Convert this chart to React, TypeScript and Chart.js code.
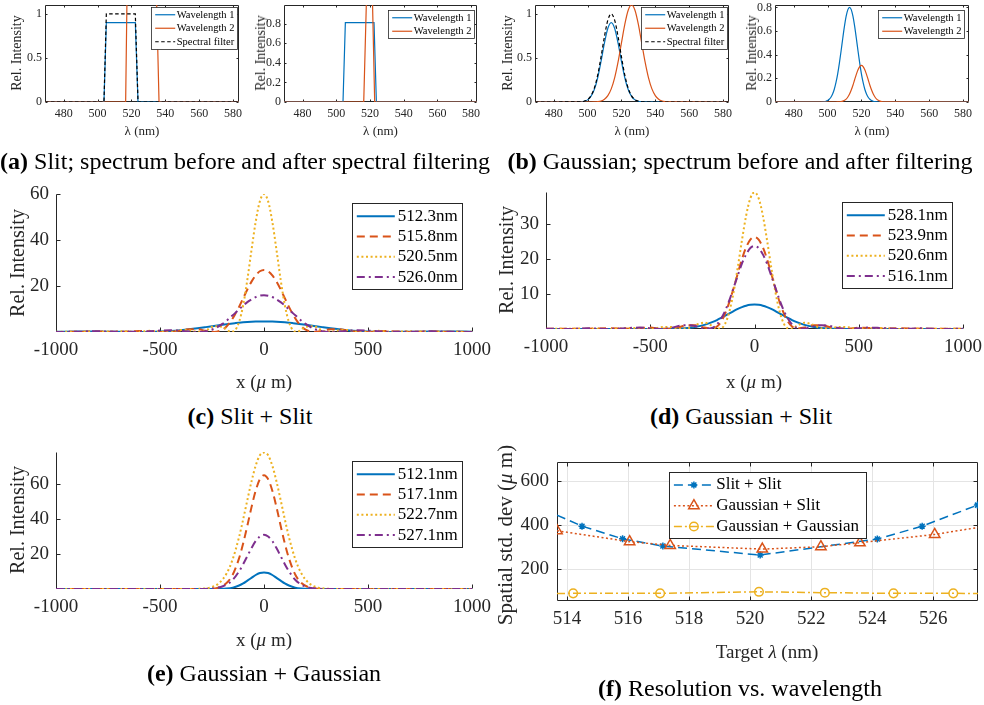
import React, { useEffect, useRef } from 'react';
import { Chart, registerables } from 'chart.js';
import { drawPoint } from 'chart.js/helpers';

Chart.register(...registerables);

const FONT = '"Liberation Serif", "Times New Roman", serif';
const AXIS = '#262626';
const GRID_COLOR = '#e4e4e4';
const BLUE = '#0072BD';
const ORANGE = '#D95319';
const YELLOW = '#EDB120';
const PURPLE = '#7E2F8E';

// ---------- tick values ----------
const SPEC_X_TICKS = [480, 500, 520, 540, 560, 580];
const SPEC_Y_TICKS_1 = [0, 0.5, 1];
const SPEC_Y_TICKS_08 = [0, 0.2, 0.4, 0.6, 0.8];
const POS_X_TICKS = [-1000, -500, 0, 500, 1000];
const C_Y_TICKS = [20, 40, 60];
const D_Y_TICKS = [10, 20, 30];
const E_Y_TICKS = [20, 40, 60];
const F_X_TICKS = [514, 516, 518, 520, 522, 524, 526];
const F_Y_TICKS = [200, 400, 600];

// ---------- (a) slit spectra ----------
const A1_W1_X = [469, 503.8, 505.2, 522.3, 523.9, 583.5];
const A1_W1_Y = [0, 0, 0.9, 0.9, 0, 0];
const A1_W2_X = [469, 516.6, 517.4, 534.8, 536.3, 583.5];
const A1_W2_Y = [0, 0, 1.2, 1.2, 0, 0];
const A1_F_X = [469, 503.8, 505.2, 522.3, 523.9, 583.5];
const A1_F_Y = [0, 0, 1, 1, 0, 0];

const A2_W1_X = [469, 504.0, 505.4, 522.4, 523.8, 583.5];
const A2_W1_Y = [0, 0, 0.81, 0.81, 0, 0];
const A2_W2_X = [469, 516.3, 518.0, 521.4, 522.8, 583.5];
const A2_W2_Y = [0, 0, 1.1, 1.1, 0, 0];

// ---------- (b) gaussian spectra ----------
const B1_X = [469, 494, 496, 498, 500, 502, 504, 506, 508, 510, 512, 514, 516, 518, 520, 522, 524, 526, 528, 530, 532, 534, 536, 538, 540, 542, 544, 546, 548, 583.5];
const B1_W1 = [0, 0, 0.002, 0.008, 0.024, 0.063, 0.141, 0.275, 0.463, 0.67, 0.836, 0.9, 0.836, 0.67, 0.463, 0.275, 0.141, 0.063, 0.024, 0.008, 0.002, 0, 0, 0, 0, 0, 0, 0, 0, 0];
const B1_W2 = [0, 0, 0, 0, 0, 0, 0.001, 0.004, 0.012, 0.032, 0.073, 0.149, 0.274, 0.452, 0.668, 0.881, 1.041, 1.1, 1.041, 0.881, 0.668, 0.452, 0.274, 0.149, 0.073, 0.032, 0.012, 0.004, 0.001, 0];
const B1_F = [0, 0.001, 0.003, 0.009, 0.027, 0.07, 0.157, 0.306, 0.514, 0.744, 0.929, 1, 0.929, 0.744, 0.514, 0.306, 0.157, 0.07, 0.027, 0.009, 0.003, 0.001, 0, 0, 0, 0, 0, 0, 0, 0];

const B2_X = [469, 496, 497, 498, 499, 500, 501, 502, 503, 504, 505, 506, 507, 508, 509, 510, 511, 512, 513, 514, 515, 516, 517, 518, 519, 520, 521, 522, 523, 524, 525, 526, 527, 528, 529, 530, 531, 532, 533, 534, 583.5];
const B2_W1 = [0, 0, 0.001, 0.003, 0.006, 0.012, 0.023, 0.04, 0.068, 0.108, 0.165, 0.238, 0.329, 0.431, 0.539, 0.641, 0.725, 0.781, 0.8, 0.781, 0.725, 0.641, 0.539, 0.431, 0.329, 0.238, 0.165, 0.108, 0.068, 0.04, 0.023, 0.012, 0.006, 0.003, 0.001, 0, 0, 0, 0, 0, 0];
const B2_W2 = [0, 0, 0, 0, 0, 0, 0, 0, 0, 0, 0, 0.001, 0.002, 0.003, 0.007, 0.014, 0.024, 0.042, 0.067, 0.101, 0.142, 0.188, 0.234, 0.273, 0.3, 0.31, 0.3, 0.273, 0.234, 0.188, 0.142, 0.101, 0.067, 0.042, 0.024, 0.014, 0.007, 0.003, 0.002, 0.001, 0];

// ---------- (c),(d) spatial profiles ----------
const CD_X = [-1000, -900, -800, -700, -600, -550, -500, -450, -400, -360, -320, -280, -240, -200, -180, -160, -140, -120, -100, -80, -60, -40, -20, 0, 20, 40, 60, 80, 100, 120, 140, 160, 180, 200, 240, 280, 320, 360, 400, 450, 500, 550, 600, 700, 800, 900, 1000];

const C_512_3 = [0.13, 0.21, 0.2, 0.09, 0, 0.04, 0.17, 0.41, 0.79, 1.17, 1.62, 2.12, 2.64, 3.15, 3.39, 3.62, 3.83, 4.03, 4.2, 4.34, 4.45, 4.53, 4.58, 4.6, 4.58, 4.53, 4.45, 4.34, 4.2, 4.03, 3.83, 3.62, 3.39, 3.15, 2.64, 2.12, 1.62, 1.17, 0.79, 0.41, 0.17, 0.04, 0, 0.09, 0.2, 0.21, 0.13];
const C_515_8 = [0, 0.1, 0.2, 0, 0.4, 0.3, 0, 0.1, 0.7, 1.2, 1.2, 0.5, 0, 1.0, 2.4, 4.6, 7.5, 10.9, 14.7, 18.5, 21.9, 24.6, 26.4, 27, 26.4, 24.6, 21.9, 18.5, 14.7, 10.9, 7.5, 4.6, 2.4, 1.0, 0, 0.5, 1.2, 1.2, 0.7, 0.1, 0, 0.3, 0.4, 0, 0.2, 0.1, 0];
const C_520_5 = [0.1, 0.1, 0.1, 0.3, 0.1, 0.5, 0.2, 0.1, 0.9, 0.8, 0.1, 0.6, 2.5, 2.3, 1.1, 0.1, 0.7, 4.3, 11.7, 22.8, 35.7, 47.9, 56.8, 60, 56.8, 47.9, 35.7, 22.8, 11.7, 4.3, 0.7, 0.1, 1.1, 2.3, 2.5, 0.6, 0.1, 0.8, 0.9, 0.1, 0.2, 0.5, 0.1, 0.3, 0.1, 0.1, 0.1];
const C_526_0 = [0, 0.1, 0.3, 0.1, 0.1, 0.3, 0.6, 0.8, 0.5, 0.2, 0, 0.3, 1.4, 3.5, 4.9, 6.5, 8.1, 9.8, 11.5, 13.0, 14.2, 15.2, 15.8, 16, 15.8, 15.2, 14.2, 13.0, 11.5, 9.8, 8.1, 6.5, 4.9, 3.5, 1.4, 0.3, 0, 0.2, 0.5, 0.8, 0.6, 0.3, 0.1, 0.1, 0.3, 0.1, 0];

const D_528_1 = [0, 0, 0, 0, 0, 0, 0, 0.01, 0.05, 0.13, 0.29, 0.62, 1.17, 2.03, 2.56, 3.17, 3.81, 4.48, 5.13, 5.74, 6.26, 6.66, 6.91, 7, 6.91, 6.66, 6.26, 5.74, 5.13, 4.48, 3.81, 3.17, 2.56, 2.03, 1.17, 0.62, 0.29, 0.13, 0.05, 0.01, 0, 0, 0, 0, 0, 0, 0];
const D_523_9 = [0.1, 0.1, 0.1, 0.2, 0.1, 0.3, 0.4, 0.1, 0.1, 0.6, 1.1, 1.1, 0.4, 0.1, 0.7, 2.1, 4.5, 7.8, 11.7, 15.9, 20.0, 23.3, 25.5, 26.3, 25.5, 23.3, 20.0, 15.9, 11.7, 7.8, 4.5, 2.1, 0.7, 0.1, 0.4, 1.1, 1.1, 0.6, 0.1, 0.1, 0.4, 0.3, 0.1, 0.2, 0.1, 0.1, 0.1];
const D_520_6 = [0, 0.1, 0.1, 0, 0.3, 0.2, 0, 0.5, 0.6, 0.1, 0.2, 1.2, 1.8, 0.8, 0.1, 0.2, 1.6, 5.1, 10.6, 17.7, 25.4, 32.4, 37.3, 39, 37.3, 32.4, 25.4, 17.7, 10.6, 5.1, 1.6, 0.2, 0.1, 0.8, 1.8, 1.2, 0.2, 0.1, 0.6, 0.5, 0, 0.2, 0.3, 0, 0.1, 0.1, 0];
const D_516_1 = [0.1, 0, 0.2, 0, 0.3, 0.4, 0.2, 0, 0.3, 0.9, 1.1, 0.8, 0.1, 0.4, 1.3, 3.0, 5.3, 8.3, 11.8, 15.3, 18.7, 21.3, 23.1, 23.7, 23.1, 21.3, 18.7, 15.3, 11.8, 8.3, 5.3, 3.0, 1.3, 0.4, 0.1, 0.8, 1.1, 0.9, 0.3, 0, 0.2, 0.4, 0.3, 0, 0.2, 0, 0.1];

// ---------- (e) spatial profiles ----------
const E_X = [-1000, -800, -600, -500, -400, -350, -300, -260, -220, -180, -150, -120, -100, -80, -60, -40, -20, 0, 20, 40, 60, 80, 100, 120, 150, 180, 220, 260, 300, 350, 400, 500, 600, 800, 1000];
const E_512_1 = [0, 0, 0, 0, 0, 0, 0, 0, 0.1, 0.3, 0.8, 2.0, 3.2, 4.8, 6.4, 8.0, 9.1, 9.5, 9.1, 8.0, 6.4, 4.8, 3.2, 2.0, 0.8, 0.3, 0.1, 0, 0, 0, 0, 0, 0, 0, 0];
const E_517_1 = [0, 0, 0, 0, 0, 0, 0, 0.1, 0.8, 3.4, 8.3, 17.5, 26.1, 36.2, 46.8, 56.2, 62.7, 65, 62.7, 56.2, 46.8, 36.2, 26.1, 17.5, 8.3, 3.4, 0.8, 0.1, 0, 0, 0, 0, 0, 0, 0];
const E_522_7 = [0, 0, 0, 0, 0, 0, 0.2, 0.8, 3.0, 8.8, 17.2, 29.6, 39.9, 50.9, 61.5, 70.5, 76.4, 78, 76.4, 70.5, 61.5, 50.9, 39.9, 29.6, 17.2, 8.8, 3.0, 0.8, 0.2, 0, 0, 0, 0, 0, 0];
const E_527_1 = [0, 0, 0, 0, 0, 0, 0, 0.2, 0.7, 2.5, 5.3, 10.1, 14.2, 18.8, 23.4, 27.4, 30.0, 31, 30.0, 27.4, 23.4, 18.8, 14.2, 10.1, 5.3, 2.5, 0.7, 0.2, 0, 0, 0, 0, 0, 0, 0];

// ---------- (f) resolution vs wavelength ----------
const F_SS_X = [513.67, 514.49, 515.82, 517.14, 520.33, 524.17, 525.64, 527.45];
const F_SS_Y = [446, 396, 338, 305, 264, 337, 396, 492];
const F_GS_X = [513.67, 516.05, 517.38, 520.4, 522.32, 523.6, 526.05, 527.47];
const F_GS_Y = [375, 325, 308, 291, 302, 320, 358, 390];
const F_GG_X = [513.67, 514.2, 517.05, 520.29, 522.45, 524.7, 526.66, 527.47];
const F_GG_Y = [88.5, 89, 89, 96, 92, 89, 89, 88.5];

// ---------- plugins ----------
const boxLegendPlugin = {
  id: 'boxLegend',
  afterDatasetsDraw(chart: any, _args: any, o: any) {
    if (!o || !o.size) return;
    const ctx = chart.ctx;
    const ca = chart.chartArea;
    const items = chart.data.datasets;
    ctx.save();
    ctx.font = `${o.size}px ${FONT}`;
    let tw = 0;
    items.forEach((d: any) => {
      tw = Math.max(tw, ctx.measureText(d.label).width);
    });
    const w = Math.round(o.padL + o.lineLen + o.gap + tw + o.padR);
    const h = Math.round(o.padY * 2 + o.rowH * items.length);
    const x0 = Math.round(o.align === 'center' ? (ca.left + ca.right - w) / 2 : ca.right - o.dx - w) + 0.5;
    const y0 = Math.round(ca.top + o.dy) + 0.5;
    ctx.fillStyle = '#ffffff';
    ctx.fillRect(x0, y0, w, h);
    ctx.strokeStyle = AXIS;
    ctx.lineWidth = o.border || 1;
    ctx.setLineDash([]);
    ctx.strokeRect(x0, y0, w, h);
    items.forEach((d: any, i: number) => {
      const cy = y0 + o.padY + o.rowH * (i + 0.5);
      const lx = x0 + o.padL;
      ctx.save();
      ctx.strokeStyle = d.borderColor;
      ctx.lineWidth = d.borderWidth;
      ctx.setLineDash(d.borderDash || []);
      ctx.beginPath();
      ctx.moveTo(lx, cy);
      ctx.lineTo(lx + o.lineLen, cy);
      ctx.stroke();
      ctx.setLineDash([]);
      if (d.legendMarker) {
        ctx.fillStyle = 'rgba(0,0,0,0)';
        ctx.strokeStyle = d.borderColor;
        ctx.lineWidth = d.pointBorderWidth || 1;
        drawPoint(ctx, { pointStyle: d.pointStyle, radius: d.legendMarker, borderWidth: d.pointBorderWidth || 1, rotation: 0 } as any, lx + o.lineLen / 2, cy);
      }
      ctx.restore();
      ctx.fillStyle = '#000000';
      ctx.textBaseline = 'middle';
      ctx.textAlign = 'left';
      ctx.fillText(d.label, lx + o.lineLen + o.gap, cy + (o.textDy || 0));
    });
    ctx.restore();
  },
};

const axesDecoPlugin = {
  id: 'axesDeco',
  beforeDatasetsDraw(chart: any, _a: any, o: any) {
    const ctx = chart.ctx;
    const ca = chart.chartArea;
    const xs = chart.scales.x;
    const ys = chart.scales.y;
    const L = Math.round(ca.left) + 0.5;
    const R = Math.round(ca.right) - 0.5;
    const T = Math.round(ca.top) + 0.5;
    const B = Math.round(ca.bottom) - 0.5;
    const len = o.len || 0;
    ctx.save();
    ctx.strokeStyle = AXIS;
    ctx.lineWidth = 1;
    ctx.setLineDash([]);
    ctx.beginPath();
    if (o.box) {
      ctx.rect(L, T, R - L, B - T);
    } else {
      ctx.moveTo(L, T);
      ctx.lineTo(L, B);
      ctx.lineTo(R, B);
    }
    xs.ticks.forEach((t: any) => {
      const px = Math.round(xs.getPixelForValue(t.value)) + 0.5;
      ctx.moveTo(px, B);
      ctx.lineTo(px, B - len);
      if (o.box) {
        ctx.moveTo(px, T);
        ctx.lineTo(px, T + len);
      }
    });
    ys.ticks.forEach((t: any) => {
      const py = Math.round(ys.getPixelForValue(t.value)) + 0.5;
      ctx.moveTo(L, py);
      ctx.lineTo(L + len, py);
      if (o.box) {
        ctx.moveTo(R, py);
        ctx.lineTo(R - len, py);
      }
    });
    ctx.stroke();
    ctx.restore();
  },
};

// ---------- helpers ----------
function series(label: string, xs: number[], ys: number[], color: string, width: number, dash: number[], extra: any = {}) {
  return {
    label,
    data: xs.map((x, i) => ({ x, y: ys[i] })),
    borderColor: color,
    backgroundColor: color,
    borderWidth: width,
    borderDash: dash,
    pointRadius: 0,
    fill: false,
    tension: 0,
    ...extra,
  };
}

function makeConfig(p: any) {
  const [pl, pt, pr, pb] = p.pads;
  const tickFont = { family: FONT, size: p.tickSize };
  const n = p.datasets.length;
  p.datasets.forEach((d: any, i: number) => {
    d.order = n - i;
  });
  return {
    type: 'line',
    data: { datasets: p.datasets },
    options: {
      responsive: false,
      animation: false,
      devicePixelRatio: 1,
      events: [],
      layout: { padding: { left: 0, top: pt, right: pr, bottom: 0 } },
      plugins: {
        legend: { display: false },
        tooltip: { enabled: false },
        boxLegend: p.legend,
        axesDeco: { box: p.box, len: p.tickLen },
      },
      scales: {
        x: {
          type: 'linear',
          min: p.xRange[0],
          max: p.xRange[1],
          afterFit: (s: any) => {
            s.height = pb;
          },
          afterBuildTicks: (s: any) => {
            s.ticks = p.xTicks.map((v: number) => ({ value: v }));
          },
          grid: { display: !!p.grid, drawTicks: false, color: GRID_COLOR, lineWidth: 1 },
          border: { display: false },
          ticks: { font: tickFont, color: AXIS, padding: p.xPad, maxRotation: 0, minRotation: 0, autoSkip: false, callback: (v: any) => String(v) },
        },
        y: {
          type: 'linear',
          min: p.yRange[0],
          max: p.yRange[1],
          afterFit: (s: any) => {
            s.width = pl;
          },
          afterBuildTicks: (s: any) => {
            s.ticks = p.yTicks.map((v: number) => ({ value: v }));
          },
          grid: { display: !!p.grid, drawTicks: false, color: GRID_COLOR, lineWidth: 1 },
          border: { display: false },
          ticks: { font: tickFont, color: AXIS, padding: p.yPad, autoSkip: false, callback: (v: any) => String(v) },
        },
      },
    },
    plugins: [boxLegendPlugin, axesDecoPlugin],
  };
}

function ChartBox({ rect, pads, build }: any) {
  const ref = useRef<HTMLCanvasElement | null>(null);
  useEffect(() => {
    const chart = new Chart(ref.current as HTMLCanvasElement, build() as any);
    return () => chart.destroy();
  }, []);
  const [L, T, R, B] = rect;
  const [pl, pt, pr, pb] = pads;
  const w = R - L + pl + pr;
  const h = B - T + pt + pb;
  return <canvas ref={ref} width={w} height={h} style={{ position: 'absolute', left: L - pl, top: T - pt, width: w, height: h }} />;
}

function Label({ x, y, size, rotate = false, color = AXIS, children }: any) {
  return (
    <div
      style={{
        position: 'absolute',
        left: x,
        top: y,
        transform: `translate(-50%, -50%)${rotate ? ' rotate(-90deg)' : ''}`,
        fontSize: size,
        lineHeight: 1,
        whiteSpace: 'nowrap',
        color,
        fontFamily: FONT,
      }}
    >
      {children}
    </div>
  );
}

// ---------- panel definitions ----------
const SPEC_PADS = [42, 14, 14, 22];
const BIG_PADS = [45, 22, 30, 40];
const F_PADS = [45, 22, 14, 40];

const specLegend = (dx: number, dy: number) => ({ size: 10.5, align: 'right', dx, dy, rowH: 13.5, padY: 0.5, lineLen: 20, padL: 3.7, gap: 1.5, padR: 3, border: 0.8 });
const bigLegend = (dx: number, dy: number) => ({ size: 17, align: 'right', dx, dy, rowH: 20.3, padY: 2.5, lineLen: 38, padL: 4.3, gap: 3, padR: 5, border: 1 });

const specBase = { tickSize: 12, xTicks: SPEC_X_TICKS, xRange: [469, 583.5], xPad: 5, yPad: 3, box: true, tickLen: 2, pads: SPEC_PADS };
const bigBase = { tickSize: 19, xTicks: POS_X_TICKS, xRange: [-1000, 1000], xPad: 7, yPad: 7, box: false, tickLen: 4, pads: BIG_PADS };

const DASH = [8, 5];
const DOT = [2, 2.6];
const DASHDOT = [8, 4, 2, 4];
const mono = { cubicInterpolationMode: 'monotone' };

const RECT_A1 = [45, 5, 239, 102];
const RECT_A2 = [284, 5, 477, 102];
const RECT_B1 = [535, 5, 729, 102];
const RECT_B2 = [775, 5, 969, 102];
const RECT_C = [56, 194, 472, 332];
const RECT_D = [546, 192, 963, 329];
const RECT_E = [56, 452, 472, 589];
const RECT_F = [557, 462, 978, 601];

const buildA1 = () =>
  makeConfig({
    ...specBase,
    yRange: [0, 1.1],
    yTicks: SPEC_Y_TICKS_1,
    legend: specLegend(2, 2),
    datasets: [
      series('Wavelength 1', A1_W1_X, A1_W1_Y, BLUE, 1.2, []),
      series('Wavelength 2', A1_W2_X, A1_W2_Y, ORANGE, 1.2, []),
      series('Spectral filter', A1_F_X, A1_F_Y, '#000000', 1.2, [3.5, 2.5]),
    ],
  });

const buildA2 = () =>
  makeConfig({
    ...specBase,
    yRange: [0, 0.99],
    yTicks: SPEC_Y_TICKS_08,
    legend: specLegend(3, 5),
    datasets: [
      series('Wavelength 1', A2_W1_X, A2_W1_Y, BLUE, 1.2, []),
      series('Wavelength 2', A2_W2_X, A2_W2_Y, ORANGE, 1.2, []),
    ],
  });

const buildB1 = () =>
  makeConfig({
    ...specBase,
    yRange: [0, 1.1],
    yTicks: SPEC_Y_TICKS_1,
    legend: specLegend(2, 2),
    datasets: [
      series('Wavelength 1', B1_X, B1_W1, BLUE, 1.2, [], mono),
      series('Wavelength 2', B1_X, B1_W2, ORANGE, 1.2, [], mono),
      series('Spectral filter', B1_X, B1_F, '#000000', 1.2, [3.5, 2.5], mono),
    ],
  });

const buildB2 = () =>
  makeConfig({
    ...specBase,
    yRange: [0, 0.82],
    yTicks: SPEC_Y_TICKS_08,
    legend: specLegend(5, 5),
    datasets: [
      series('Wavelength 1', B2_X, B2_W1, BLUE, 1.2, [], mono),
      series('Wavelength 2', B2_X, B2_W2, ORANGE, 1.2, [], mono),
    ],
  });

const buildC = () =>
  makeConfig({
    ...bigBase,
    yRange: [0, 60],
    yTicks: C_Y_TICKS,
    legend: bigLegend(10, 9),
    datasets: [
      series('512.3nm', CD_X, C_512_3, BLUE, 2, [], mono),
      series('515.8nm', CD_X, C_515_8, ORANGE, 2, DASH, mono),
      series('520.5nm', CD_X, C_520_5, YELLOW, 2, DOT, mono),
      series('526.0nm', CD_X, C_526_0, PURPLE, 2, DASHDOT, mono),
    ],
  });

const buildD = () =>
  makeConfig({
    ...bigBase,
    yRange: [0, 39.1],
    yTicks: D_Y_TICKS,
    legend: bigLegend(11, 10),
    datasets: [
      series('528.1nm', CD_X, D_528_1, BLUE, 2, [], mono),
      series('523.9nm', CD_X, D_523_9, ORANGE, 2, DASH, mono),
      series('520.6nm', CD_X, D_520_6, YELLOW, 2, DOT, mono),
      series('516.1nm', CD_X, D_516_1, PURPLE, 2, DASHDOT, mono),
    ],
  });

const buildE = () =>
  makeConfig({
    ...bigBase,
    yRange: [0, 78.3],
    yTicks: E_Y_TICKS,
    legend: bigLegend(10, 9),
    datasets: [
      series('512.1nm', E_X, E_512_1, BLUE, 2, [], mono),
      series('517.1nm', E_X, E_517_1, ORANGE, 2, DASH, mono),
      series('522.7nm', E_X, E_522_7, YELLOW, 2, DOT, mono),
      series('527.1nm', E_X, E_527_1, PURPLE, 2, DASHDOT, mono),
    ],
  });

const buildF = () =>
  makeConfig({
    tickSize: 19,
    xTicks: F_X_TICKS,
    xRange: [513.67, 527.47],
    yRange: [54, 689],
    yTicks: F_Y_TICKS,
    xPad: 7,
    yPad: 8,
    box: true,
    grid: true,
    tickLen: 4,
    pads: F_PADS,
    legend: { size: 17, align: 'center', dx: 0, dy: 10, rowH: 20.8, padY: 2, lineLen: 40, padL: 4.4, gap: 2.3, padR: 8, border: 1 },
    datasets: [
      series('Slit + Slit', F_SS_X, F_SS_Y, BLUE, 1.5, [9, 5], {
        pointStyle: 'star',
        pointRadius: [0, 3.5, 3.5, 3.5, 3.5, 3.5, 3.5, 3.5],
        pointBorderColor: BLUE,
        pointBackgroundColor: 'rgba(0,0,0,0)',
        pointBorderWidth: 1.5,
        legendMarker: 3.5,
      }),
      series('Gaussian + Slit', F_GS_X, F_GS_Y, ORANGE, 1.5, [2, 2.5], {
        pointStyle: 'triangle',
        pointRadius: [6, 6, 6, 6, 6, 6, 6, 0],
        pointBorderColor: ORANGE,
        pointBackgroundColor: 'rgba(0,0,0,0)',
        pointBorderWidth: 1.5,
        legendMarker: 6,
      }),
      series('Gaussian + Gaussian', F_GG_X, F_GG_Y, YELLOW, 1.5, [8, 3, 2, 3], {
        pointStyle: 'circle',
        pointRadius: [0, 4.3, 4.3, 4.3, 4.3, 4.3, 4.3, 0],
        pointBorderColor: YELLOW,
        pointBackgroundColor: 'rgba(0,0,0,0)',
        pointBorderWidth: 1.5,
        legendMarker: 4.3,
      }),
    ],
  });

export default function App() {
  return (
    <div style={{ position: 'absolute', left: 0, top: 0, width: 984, height: 705, background: '#ffffff', overflow: 'hidden', fontFamily: FONT }}>
      <ChartBox rect={RECT_A1} pads={SPEC_PADS} build={buildA1} />
      <ChartBox rect={RECT_A2} pads={SPEC_PADS} build={buildA2} />
      <ChartBox rect={RECT_B1} pads={SPEC_PADS} build={buildB1} />
      <ChartBox rect={RECT_B2} pads={SPEC_PADS} build={buildB2} />
      <ChartBox rect={RECT_C} pads={BIG_PADS} build={buildC} />
      <ChartBox rect={RECT_D} pads={BIG_PADS} build={buildD} />
      <ChartBox rect={RECT_E} pads={BIG_PADS} build={buildE} />
      <ChartBox rect={RECT_F} pads={F_PADS} build={buildF} />

      {/* top row axis titles */}
      <Label x={142} y={130} size={13}>λ (nm)</Label>
      <Label x={380.5} y={130} size={13}>λ (nm)</Label>
      <Label x={632} y={130} size={13}>λ (nm)</Label>
      <Label x={872} y={130} size={13}>λ (nm)</Label>
      <Label x={17} y={53} size={14} rotate>Rel. Intensity</Label>
      <Label x={261} y={53} size={14} rotate>Rel. Intensity</Label>
      <Label x={508} y={53} size={14} rotate>Rel. Intensity</Label>
      <Label x={752} y={53} size={14} rotate>Rel. Intensity</Label>

      {/* large panels axis titles */}
      <Label x={16.5} y={263} size={20} rotate>Rel. Intensity</Label>
      <Label x={264} y={381} size={19}>x (<i>μ</i> m)</Label>
      <Label x={506} y={260} size={20} rotate>Rel. Intensity</Label>
      <Label x={754} y={381} size={19}>x (<i>μ</i> m)</Label>
      <Label x={16.5} y={520} size={20} rotate>Rel. Intensity</Label>
      <Label x={264} y={639} size={19}>x (<i>μ</i> m)</Label>
      <Label x={505} y={535} size={21} rotate>Spatial std. dev (<i>μ</i> m)</Label>
      <Label x={767} y={651} size={19}>Target <i>λ</i> (nm)</Label>

      {/* captions */}
      <Label x={245} y={161} size={24} color="#000"><b>(a)</b> Slit; spectrum before and after spectral filtering</Label>
      <Label x={740} y={161} size={24} color="#000"><b>(b)</b> Gaussian; spectrum before and after filtering</Label>
      <Label x={250} y={416} size={24} color="#000"><b>(c)</b> Slit + Slit</Label>
      <Label x={741} y={416} size={24} color="#000"><b>(d)</b> Gaussian + Slit</Label>
      <Label x={264} y={673} size={24} color="#000"><b>(e)</b> Gaussian + Gaussian</Label>
      <Label x={740} y={688} size={24} color="#000"><b>(f)</b> Resolution vs. wavelength</Label>
    </div>
  );
}
